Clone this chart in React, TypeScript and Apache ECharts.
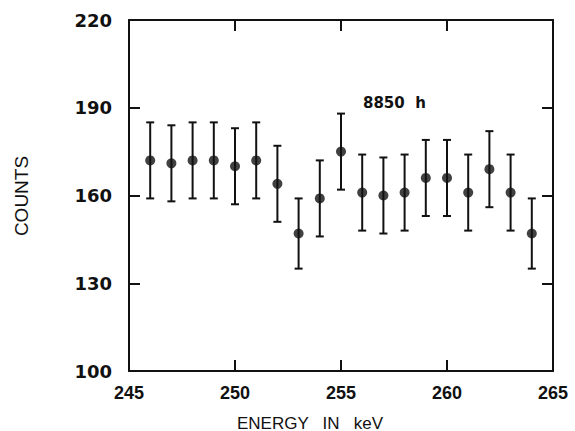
import React, { useEffect, useRef } from "react";
import * as echarts from "echarts";

const energies = [246, 247, 248, 249, 250, 251, 252, 253, 254, 255, 256, 257, 258, 259, 260, 261, 262, 263, 264];
const counts = [172, 171, 172, 172, 170, 172, 164, 147, 159, 175, 161, 160, 161, 166, 166, 161, 169, 161, 147];
const errors = [13, 13, 13, 13, 13, 13, 13, 12, 13, 13, 13, 13, 13, 13, 13, 13, 13, 13, 12];
const yTicks = [100, 130, 160, 190, 220];
const xTicks = [245, 250, 255, 260, 265];
const annotation = "8850  h";
const xTitle = "ENERGY   IN   keV";
const yTitle = "COUNTS";

export default function App() {
  const ref = useRef<HTMLDivElement>(null);
  useEffect(() => {
    if (!ref.current) return;
    const chart = echarts.init(ref.current, null, { renderer: "svg" });
    const ink = "#111";
    const errData = energies.map((e, i) => [e, counts[i] - errors[i], counts[i] + errors[i]]);
    const ptData = energies.map((e, i) => [e, counts[i]]);
    const axisCommon = {
      axisLine: { show: true, onZero: false, lineStyle: { color: ink, width: 2 } },
      axisTick: { show: true, inside: true, length: 11, lineStyle: { color: ink, width: 2 } },
      splitLine: { show: false },
    };
    chart.setOption({
      animation: false,
      backgroundColor: "#fff",
      grid: { left: 129, right: 22, top: 20, bottom: 60 },
      xAxis: [
        {
          type: "value", min: xTicks[0], max: xTicks[xTicks.length - 1], interval: 5, position: "bottom",
          ...axisCommon,
          axisLabel: { show: true, color: ink, fontFamily: "Liberation Sans", fontWeight: "bold", fontSize: 18, margin: 13,
            customValues: xTicks },
          axisTick: { ...axisCommon.axisTick, customValues: xTicks },
        },
        {
          type: "value", min: xTicks[0], max: xTicks[xTicks.length - 1], interval: 5, position: "top",
          ...axisCommon,
          axisTick: { ...axisCommon.axisTick, customValues: xTicks },
          axisLabel: { show: false },
        },
      ],
      yAxis: [
        {
          type: "value", min: yTicks[0], max: yTicks[yTicks.length - 1], position: "left",
          ...axisCommon,
          axisLabel: { show: true, color: ink, fontFamily: "DejaVu Sans", fontWeight: "bold", fontSize: 18, margin: 17,
            customValues: yTicks },
          axisTick: { ...axisCommon.axisTick, customValues: yTicks },
        },
        {
          type: "value", min: yTicks[0], max: yTicks[yTicks.length - 1], position: "right",
          ...axisCommon,
          axisTick: { ...axisCommon.axisTick, customValues: yTicks },
          axisLabel: { show: false },
        },
      ],
      series: [
        {
          type: "custom",
          xAxisIndex: 0,
          yAxisIndex: 0,
          data: errData,
          encode: { x: 0, y: [1, 2] },
          renderItem: (params: any, api: any) => {
            const x = api.value(0);
            const lo = api.coord([x, api.value(1)]);
            const hi = api.coord([x, api.value(2)]);
            const hw = 4;
            const style = { stroke: ink, lineWidth: 2 };
            return {
              type: "group",
              children: [
                { type: "line", shape: { x1: lo[0], y1: lo[1], x2: hi[0], y2: hi[1] }, style },
                { type: "line", shape: { x1: lo[0] - hw, y1: lo[1], x2: lo[0] + hw, y2: lo[1] }, style },
                { type: "line", shape: { x1: hi[0] - hw, y1: hi[1], x2: hi[0] + hw, y2: hi[1] }, style },
              ],
            };
          },
          z: 2,
        },
        {
          type: "scatter",
          data: ptData,
          symbol: "circle",
          symbolSize: 10,
          itemStyle: { color: ink },
          z: 3,
        },
      ],
      graphic: [
        {
          type: "text", left: 363, top: 95,
          style: { text: annotation, fill: ink, font: "bold 15px 'DejaVu Sans'" },
        },
        {
          type: "text", x: 310, y: 423,
          style: { text: xTitle, fill: ink, font: "17px 'Liberation Sans'", align: "center", verticalAlign: "middle" },
        },
        {
          type: "text", x: 21, y: 196, rotation: Math.PI / 2,
          style: { text: yTitle, fill: ink, font: "19px 'Liberation Sans'", align: "center", verticalAlign: "middle" },
        },
      ],
    });
    return () => chart.dispose();
  }, []);
  return <div ref={ref} style={{ width: 575, height: 431, position: "absolute", left: 0, top: 0 }} />;
}
